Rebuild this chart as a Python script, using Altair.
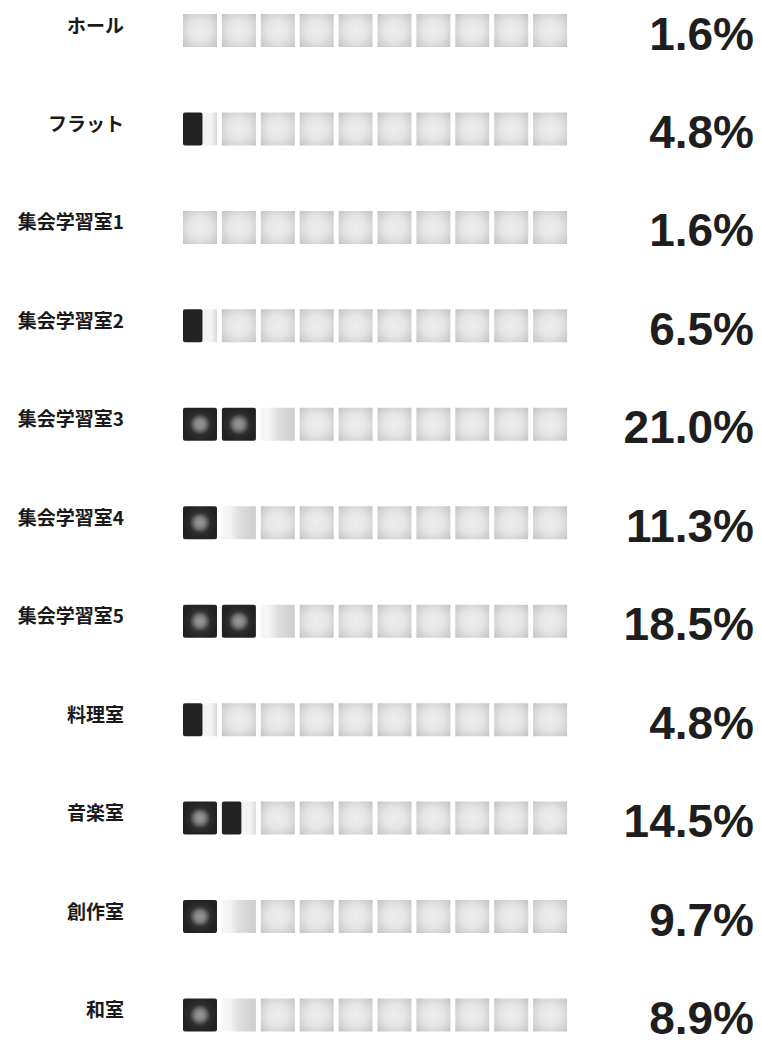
import altair as alt
import pandas as pd

# ---- data ----
names = ["ホール", "フラット", "集会学習室1", "集会学習室2", "集会学習室3",
         "集会学習室4", "集会学習室5", "料理室", "音楽室", "創作室", "和室"]
values = [1.6, 4.8, 1.6, 6.5, 21.0, 11.3, 18.5, 4.8, 14.5, 9.7, 8.9]
n_cells = 10          # each cell stands for 10 %
cell_pct = 10

rows = pd.DataFrame({"name": names, "value": values, "row": list(range(len(names)))})
rows["label"] = [f"{v:.1f}%" for v in values]
# filled amount in cells, rounded to half cells
rows["fill"] = [round(v / (cell_pct / 2)) / 2 for v in values]

cells = []
for r, f in zip(rows["row"], rows["fill"]):
    whole = int(f)
    half = (f - whole) == 0.5
    for i in range(n_cells):
        if i < whole:
            state = "full"
        elif i == whole and half:
            state = "half"
        elif i == whole and f > 0:
            state = "after"
        else:
            state = "empty"
        cells.append({"row": r, "cell": i, "state": state, "fill": f})
cdf = pd.DataFrame(cells)

# ---- styling ----
W, H = 746, 1035
xs = alt.Scale(domain=[0, n_cells], range=[175, 564])
ys = alt.Scale(domain=[0, len(names) - 1], range=[17.5, 1012])
CELL_W = "0.874"
BAR_H = 33

empty_fill = {
    "gradient": "radial", "x1": 0.5, "y1": 0.5, "r1": 0, "x2": 0.5, "y2": 0.5, "r2": 0.72,
    "stops": [
        {"offset": 0, "color": "#eeeeee"},
        {"offset": 0.45, "color": "#e5e5e5"},
        {"offset": 0.8, "color": "#cfcfcf"},
        {"offset": 1, "color": "#bdbdbd"},
    ],
}
full_fill = {
    "gradient": "radial", "x1": 0.5, "y1": 0.5, "r1": 0, "x2": 0.5, "y2": 0.5, "r2": 0.5,
    "stops": [
        {"offset": 0, "color": "#9a9a9a"},
        {"offset": 0.3, "color": "#808080"},
        {"offset": 0.62, "color": "#2e2e2e"},
        {"offset": 1, "color": "#222222"},
    ],
}
after_fill = {
    "gradient": "linear", "x1": 0, "y1": 0, "x2": 1, "y2": 0,
    "stops": [
        {"offset": 0, "color": "#f6f6f6"},
        {"offset": 0.25, "color": "#f3f3f3"},
        {"offset": 0.5, "color": "#dedede"},
        {"offset": 1, "color": "#cdcdcd"},
    ],
}
half_bg_fill = {
    "gradient": "linear", "x1": 0, "y1": 0, "x2": 1, "y2": 0,
    "stops": [
        {"offset": 0, "color": "#f5f5f5"},
        {"offset": 0.85, "color": "#f2f2f2"},
        {"offset": 1, "color": "#d8d8d8"},
    ],
}


def cell_layer(state, fill, x2expr="datum.cell + " + CELL_W, radius=0):
    return (
        alt.Chart(cdf)
        .transform_filter(alt.datum.state == state)
        .transform_calculate(xend=x2expr)
        .mark_bar(size=BAR_H, fill=fill, cornerRadius=radius)
        .encode(
            x=alt.X("cell:Q", scale=xs, axis=None),
            x2="xend:Q",
            y=alt.Y("row:Q", scale=ys, axis=None),
        )
    )


empty_layer = cell_layer("empty", empty_fill)
after_layer = cell_layer("after", after_fill)
full_layer = cell_layer("full", full_fill, radius=2)
half_bg = cell_layer("half", half_bg_fill)
half_dark = cell_layer("half", "#222222", x2expr="datum.fill", radius=2)

name_layer = (
    alt.Chart(rows)
    .mark_text(align="right", baseline="alphabetic", dy=2, font="Noto Sans CJK JP",
               fontWeight="bold", fontSize=19, color="#1a1a1a")
    .encode(x=alt.value(116), y=alt.Y("row:Q", scale=ys, axis=None), text="name:N")
)
pct_layer = (
    alt.Chart(rows)
    .mark_text(align="right", baseline="alphabetic", dy=19, font="Liberation Sans",
               fontWeight="bold", fontSize=46, color="#1e1e1e")
    .encode(x=alt.value(746), y=alt.Y("row:Q", scale=ys, axis=None), text="label:N")
)

chart = (
    alt.layer(empty_layer, after_layer, full_layer, half_bg, half_dark, name_layer, pct_layer)
    .properties(width=W, height=H, padding=0, autosize="none", background="white")
    .configure_view(stroke=None)
)

chart.save("out.html", embed_options={"renderer": "svg", "actions": False})
